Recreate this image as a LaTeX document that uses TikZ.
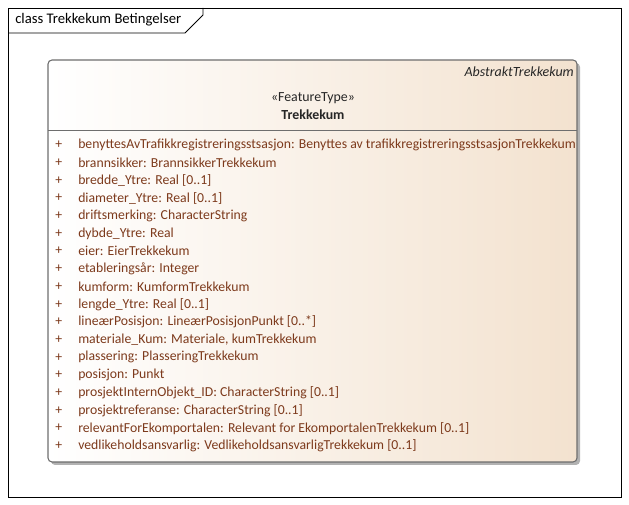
\documentclass[tikz,border=0pt]{standalone}
\usepackage{fontspec}
\setmainfont{Carlito}
\usepackage{tikz}
\definecolor{attrtext}{RGB}{125,58,28}
\definecolor{boxtan}{RGB}{243,226,207}
\definecolor{boxedge}{RGB}{110,110,110}
\tikzset{frameline/.style={draw=black, line width=0.7pt}}
\tikzset{attr/.style={anchor=west, inner sep=0pt, text=attrtext, font=\fontsize{10.3}{12}\selectfont}}
\tikzset{headtext/.style={inner sep=0pt, text=black!85, font=\fontsize{10.4}{12}\selectfont}}

\begin{document}
\begin{tikzpicture}[x=0.75pt, y=-0.75pt]
    \useasboundingbox (0,0) rectangle (629,505);
    \draw[frameline] (8,8) rectangle (621,497);
    \draw[frameline] (8,33) -- (185,33) -- (203,15) -- (203,8);
    \node[anchor=west, inner sep=0pt, font=\fontsize{11}{13}\selectfont] (title) at (15,20) {class Trekkekum Betingelser};

    % class box
    \fill[black!30, rounded corners=3pt] (51,63) rectangle (580,465);
    \shade[left color=white, right color=boxtan, rounded corners=3pt] (48,60) rectangle (577,462);
    \draw[boxedge, line width=0.8pt, rounded corners=3pt] (48,60) rectangle (577,462);
    \draw[boxedge, line width=0.6pt] (48,130) -- (577,130);

    \node[headtext, anchor=east, font=\fontsize{10.5}{12}\selectfont\itshape] (abstract) at (574,72) {AbstraktTrekkekum};
    \node[headtext] (stereo) at (313,98) {«FeatureType»};
    \node[headtext, font=\fontsize{10.4}{12}\selectfont\bfseries] (classname) at (313,115) {Trekkekum};

    \foreach \attr [count=\i] in {
        benyttesAvTrafikkregistreringsstsasjon: Benyttes av trafikkregistreringsstsasjonTrekkekum,
        brannsikker: BrannsikkerTrekkekum,
        bredde\_Ytre: Real [0..1],
        diameter\_Ytre: Real [0..1],
        driftsmerking: CharacterString,
        dybde\_Ytre: Real,
        eier: EierTrekkekum,
        etableringsår: Integer,
        kumform: KumformTrekkekum,
        lengde\_Ytre: Real [0..1],
        lineærPosisjon: LineærPosisjonPunkt [0..*],
        {materiale\_Kum: Materiale, kumTrekkekum},
        plassering: PlasseringTrekkekum,
        posisjon: Punkt,
        prosjektInternObjekt\_ID: CharacterString [0..1],
        prosjektreferanse: CharacterString [0..1],
        relevantForEkomportalen: Relevant for EkomportalenTrekkekum [0..1],
        vedlikeholdsansvarlig: VedlikeholdsansvarligTrekkekum [0..1]} {
        \node[attr] (plus\i) at (55,127.3+17.7*\i) {+};
        \node[attr] (attr\i) at (78,127.3+17.7*\i) {\attr};
    }
\end{tikzpicture}
\end{document}
